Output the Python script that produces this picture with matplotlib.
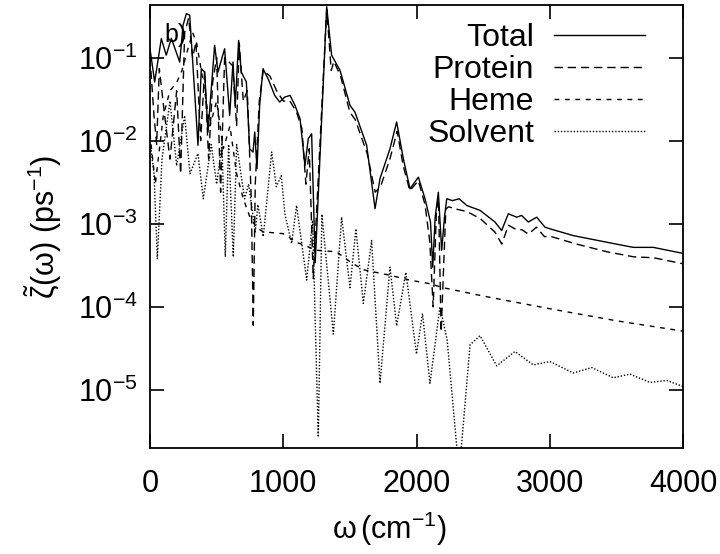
import matplotlib
matplotlib.use("Agg")
import matplotlib.pyplot as plt
from matplotlib.ticker import NullLocator, FixedLocator

plt.rcParams['font.family'] = ['Liberation Sans', 'DejaVu Sans']
plt.rcParams['mathtext.fontset'] = 'custom'
plt.rcParams['mathtext.rm'] = 'Liberation Sans'
plt.rcParams['mathtext.it'] = 'Liberation Sans:italic'
plt.rcParams['mathtext.default'] = 'regular'

# ---- data (omega in cm^-1, zeta in ps^-1) ----
tot_x = [0, 35, 85, 122, 160, 223, 248, 273, 298, 335, 360, 385, 410, 435, 485,
         510, 560, 598, 623, 640, 665, 685, 723, 748, 773, 786, 803, 823, 848, 886,
         936, 973, 1011, 1051, 1088, 1126, 1163, 1188, 1213, 1240, 1326, 1363, 1426,
         1501, 1538, 1626, 1689, 1726, 1801, 1851, 1901, 1951, 2014, 2064, 2105,
         2122, 2140, 2164, 2189, 2210, 2227, 2270, 2320, 2377, 2477, 2589, 2639,
         2689, 2752, 2789, 2839, 2902, 2964, 3002, 3177, 3427, 3627, 3777, 4000]
tot_y = [0.128, 0.051, 0.169, 0.107, 0.171, 0.0885, 0.245, 0.339, 0.324, 0.0386,
         0.0088, 0.0736, 0.067, 0.0127, 0.141, 0.067, 0.128, 0.0202, 0.0885, 0.0266,
         0.161, 0.067, 0.051, 0.008, 0.0073, 0.0127, 0.0046, 0.0266, 0.0736, 0.0558,
         0.0351, 0.0292, 0.0335, 0.0351, 0.0266, 0.0184, 0.005, 0.0106, 0.0121, 3.4e-4,
         0.41, 0.107, 0.0703, 0.0266, 0.0221, 0.0088, 0.00152, 0.0035, 0.008, 0.0168,
         0.0061, 0.00264, 0.00364, 0.002, 0.00105, 3e-4, 0.0012, 0.0024, 4.8e-4, 0.0012,
         0.0020, 0.0019, 0.0020, 0.00166, 0.00145, 0.00105, 8.3e-4, 0.00132, 0.0012, 0.00126,
         0.00105, 0.0012, 9.1e-4, 8.7e-4, 7.2e-4, 6e-4, 5.2e-4, 5.2e-4, 4.4e-4]

pro_x = [0, 30, 50, 70, 110, 150, 200, 230, 260, 290, 320, 345, 380, 410, 440,
         470, 500, 530, 560, 620, 650, 670, 700, 730, 760, 775, 790, 820, 850, 900,
         950, 1000, 1050, 1100, 1140, 1170, 1195, 1225, 1326, 1345, 1360, 1380, 1430,
         1500, 1540, 1630, 1690, 1730, 1800, 1855, 1900, 1950, 2014, 2064, 2100, 2125,
         2150, 2165, 2185, 2220, 2240, 2300, 2380, 2480, 2590, 2640, 2690, 2750, 2790,
         2840, 2900, 2960, 3000, 3200, 3430, 3630, 3780, 4000]
pro_y = [0.1, 0.02, 0.009, 0.074, 0.02, 0.006, 0.04, 0.004, 0.2, 0.3, 0.1, 0.154,
         0.01, 0.07, 0.006, 0.05, 0.1, 0.0024, 0.1, 0.08, 0.015, 0.15, 0.03, 0.04,
         0.002, 6e-5, 0.003, 0.03, 0.07, 0.06, 0.04, 0.03, 0.03, 0.022, 0.014, 0.003,
         0.008, 2.2e-4, 0.38, 0.15, 0.07, 0.09, 0.06, 0.022, 0.018, 0.007, 0.0024,
         0.0028, 0.006, 0.013, 0.005, 0.0025, 0.0033, 0.0017, 6e-4, 1e-4, 0.0015,
         0.002, 5e-5, 0.0015, 0.0016, 0.0015, 0.0014, 0.00115, 7.9e-4, 5.7e-4, 9.6e-4,
         8.5e-4, 8.5e-4, 7.5e-4, 9.1e-4, 7e-4, 7.1e-4, 5.7e-4, 4.6e-4, 4e-4, 3.9e-4, 3.3e-4]

hem_x = [0, 40, 100, 150, 200, 240, 280, 320, 350, 400, 450, 500, 550, 600, 650,
         700, 750, 800, 850, 1000, 1100, 1250, 1400, 1500, 1600, 1800, 1950, 2100,
         2200, 2500, 3000, 3500, 4000]
hem_y = [0.012, 0.003, 0.02, 0.04, 0.05, 0.07, 0.12, 0.2, 0.15, 0.05, 0.015, 0.03,
         0.008, 0.015, 0.004, 0.002, 0.0012, 0.0009, 0.0008, 7.6e-4, 6e-4, 4.8e-4,
         4.6e-4, 3.5e-4, 2.8e-4, 2.4e-4, 2.1e-4, 1.9e-4, 1.7e-4, 1.35e-4, 9.5e-5,
         6.8e-5, 5.1e-5]

sol_x = [0, 30, 55, 90, 150, 200, 260, 300, 360, 400, 460, 500, 540, 565, 590,
         625, 650, 710, 740, 790, 810, 850, 913, 948, 985, 1013, 1063, 1100, 1176,
         1220, 1263, 1290, 1376, 1438, 1501, 1545, 1601, 1663, 1726, 1801, 1851, 1920,
         2000, 2045, 2101, 2176, 2230, 2320, 2402, 2477, 2602, 2739, 2877, 3000, 3177,
         3315, 3477, 3602, 3752, 3878, 4000]
sol_y = [0.01, 0.004, 3.8e-4, 0.006, 0.03, 0.005, 0.02, 0.004, 0.007, 0.002, 0.009,
         0.003, 0.009, 4e-4, 0.009, 4e-4, 0.009, 0.002, 0.003, 8e-4, 0.0017, 7e-4,
         0.0073, 0.0028, 0.0038, 0.0013, 5.8e-4, 0.00166, 2.1e-4, 0.0011, 2.7e-6,
         0.0013, 4.7e-5, 0.0012, 1.7e-4, 8.7e-4, 1.1e-4, 6.3e-4, 1.2e-5, 3e-4, 5.9e-5,
         2.6e-4, 2.7e-5, 8.3e-5, 1.2e-5, 1e-4, 4e-5, 1e-6, 3.5e-5, 4.5e-5, 1.95e-5,
         2.9e-5, 2e-5, 2.2e-5, 1.6e-5, 1.86e-5, 1.4e-5, 1.55e-5, 1.23e-5, 1.3e-5, 1.1e-5]

labels = ["Total", "Protein", "Heme", "Solvent"]
x_ticks = [0, 1000, 2000, 3000, 4000]
y_ticks = [1e-5, 1e-4, 1e-3, 1e-2, 1e-1]

fig = plt.figure(figsize=(7.2, 5.54), dpi=100)
ax = fig.add_axes([150/720, 1 - 448/554, 533/720, 443/554])

lw = 1.0
ax.plot(tot_x, tot_y, color='black', lw=lw, ls='-', label=labels[0])
l2, = ax.plot(pro_x, pro_y, color='black', lw=lw, label=labels[1])
l2.set_dashes([6, 3.5])
l3, = ax.plot(hem_x, hem_y, color='black', lw=lw, label=labels[2])
l3.set_dashes([3.5, 4])
l4, = ax.plot(sol_x, sol_y, color='black', lw=lw, label=labels[3])
l4.set_dashes([1, 1.3])

ax.set_yscale('log')
ax.set_xlim(0, 4000)
ax.set_ylim(2e-6, 0.43)
ax.xaxis.set_major_locator(FixedLocator(x_ticks))
ax.yaxis.set_major_locator(FixedLocator(y_ticks))
ax.yaxis.set_minor_locator(NullLocator())
ax.xaxis.set_minor_locator(NullLocator())

ax.tick_params(which='major', direction='in', length=10, width=1.2,
               top=True, right=True, labelsize=22)
ax.tick_params(axis='x', pad=15)
ax.tick_params(axis='y', pad=9)
for s in ax.spines.values():
    s.set_linewidth(1.3)

ax.set_xlabel(r'$\omega\,$(cm$^{-1}$)', fontsize=22)
ax.xaxis.set_label_coords(0.45, -0.14)
ax.set_ylabel(r'$\tilde{\zeta}(\omega)$ (ps$^{-1}$)', fontsize=22, labelpad=10)

ax.text(0.028, 0.932, 'b)', transform=ax.transAxes, fontsize=18,
        ha='left', va='center')

ax.legend(loc='upper right', bbox_to_anchor=(0.953, 0.988), frameon=False,
          markerfirst=False, fontsize=23, handlelength=2.85, handletextpad=0.63,
          labelspacing=0.06, borderaxespad=0.0)

fig.savefig('out.png', dpi=100)
